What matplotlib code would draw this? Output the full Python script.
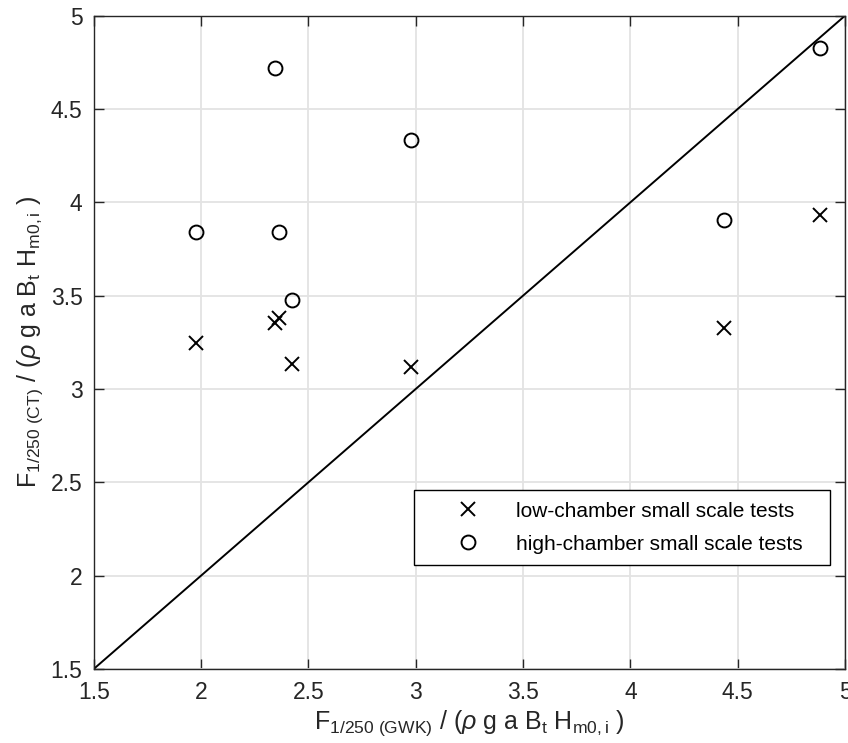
import matplotlib
matplotlib.use("Agg")
import matplotlib.pyplot as plt

base = 'Liberation Sans'
plt.rcParams['font.family'] = [base, 'DejaVu Sans']
plt.rcParams['mathtext.fontset'] = 'custom'
plt.rcParams['mathtext.rm'] = base
plt.rcParams['mathtext.it'] = base + ':italic'
plt.rcParams['mathtext.bf'] = base + ':bold'

# Data
gwk_x = [1.975, 2.345, 2.363, 2.422, 2.976, 4.437, 4.883]
low_ct = [3.248, 3.355, 3.379, 3.134, 3.117, 3.326, 3.933]
high_x = [1.975, 2.346, 2.363, 2.422, 2.976, 4.437, 4.883]
high_ct = [3.840, 4.721, 3.840, 3.477, 4.333, 3.904, 4.825]
diag = [1.5, 5.0]
ticks = [1.5, 2, 2.5, 3, 3.5, 4, 4.5, 5]
tick_labels = ['1.5', '2', '2.5', '3', '3.5', '4', '4.5', '5']

fig = plt.figure(figsize=(8.48, 7.43), dpi=100)
ax = fig.add_axes([0.1105, 0.0996, 0.886, 0.8793])

axc = '#262626'
ax.plot(gwk_x, low_ct, linestyle='none', marker='x', ms=10, mew=1.4, color='k',
        label='low-chamber small scale tests', zorder=3)
ax.plot(high_x, high_ct, linestyle='none', marker='o', ms=10, mew=1.4, mfc='none', mec='k',
        label='high-chamber small scale tests', zorder=3)
ax.plot(diag, diag, color='k', lw=1.4, zorder=2)

ax.set_xlim(1.5, 5)
ax.set_ylim(1.5, 5)
ax.set_xticks(ticks)
ax.set_xticklabels(tick_labels)
ax.set_yticks(ticks)
ax.set_yticklabels(tick_labels)
ax.grid(True, color='#e3e3e3', lw=1.3)
ax.set_axisbelow(True)
ax.tick_params(direction='in', top=True, right=True, length=7, width=1.0,
               color=axc, labelcolor=axc, labelsize=16.5)
ax.tick_params(axis='x', pad=9)
ax.tick_params(axis='y', pad=8)
for s in ax.spines.values():
    s.set_color(axc)
    s.set_linewidth(1.0)

ax.set_xlabel(r'F$_{\mathrm{1/250\ (GWK)}}$ / ($\rho$ g a B$_{\mathrm{t}}$ H$_{\mathrm{m0,i}}$ )',
              fontsize=18, color=axc, labelpad=3)
ax.set_ylabel(r'F$_{\mathrm{1/250\ (CT)}}$ / ($\rho$ g a B$_{\mathrm{t}}$ H$_{\mathrm{m0,i}}$ )',
              fontsize=18, color=axc, labelpad=4)

leg = ax.legend(loc='lower left', bbox_to_anchor=(0.4263, 0.1592, 0.5537, 0.0),
                mode='expand', fontsize=15,
                frameon=True, fancybox=False, edgecolor='k', framealpha=1,
                borderpad=0.55, handletextpad=0.26, labelspacing=0.67, borderaxespad=0,
                handlelength=4.1)
leg.get_frame().set_linewidth(1.0)

fig.savefig('out.png', dpi=100)
